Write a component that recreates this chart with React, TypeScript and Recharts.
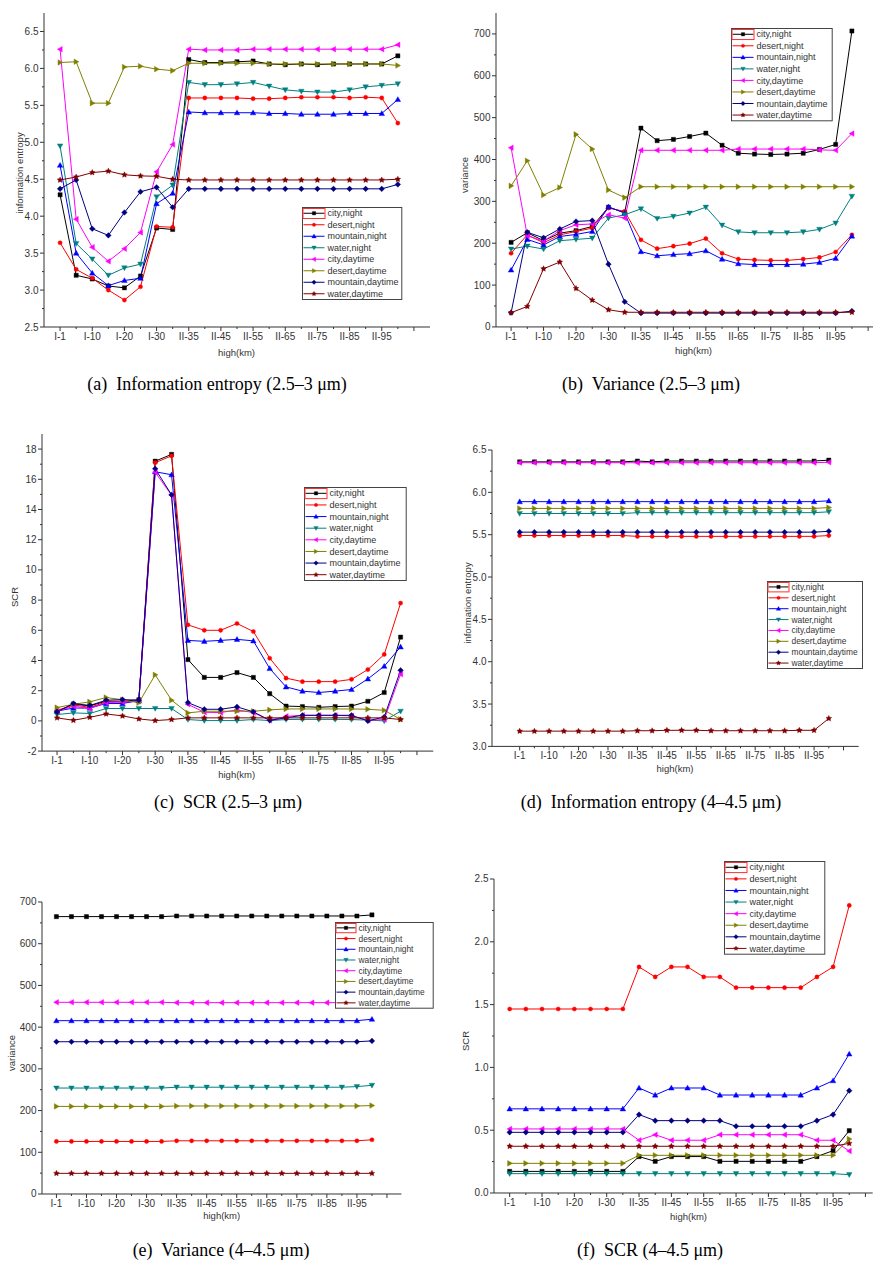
import React from 'react';
import { LineChart, Line, XAxis, YAxis } from 'recharts';

// ---------- categories / tick labels ----------
const categories = ["I-1","I-5","I-10","I-15","I-20","I-25","I-30","I-35","II-35","II-40","II-45","II-50","II-55","II-60","II-65","II-70","II-75","II-80","II-85","II-90","II-95","II-100"];
const xTickLabels = ["I-1","I-10","I-20","I-30","II-35","II-45","II-55","II-65","II-75","II-85","II-95"];
const xTickPositions = [0,1,2,3,4,5,6,7,8,9,10,11,12,13,14,15,16,17,18,19,20,21,22];

const seriesNames = ["city,night","desert,night","mountain,night","water,night","city,daytime","desert,daytime","mountain,daytime","water,daytime"];
const seriesColors = ["#000000","#ff0000","#0000ff","#008080","#ff00ff","#808000","#000080","#800000"];
const seriesShapes = ["square","circle","triUp","triDown","triLeft","triRight","diamond","star"];

// ---------- (a) Information entropy 2.5-3 um ----------
const aCityNight = [4.29,3.20,3.15,3.055,3.03,3.19,3.84,3.82,6.12,6.08,6.08,6.09,6.10,6.06,6.05,6.06,6.05,6.06,6.06,6.06,6.06,6.17];
const aDesertNight = [3.64,3.28,3.16,3.00,2.865,3.045,3.86,3.85,5.60,5.60,5.60,5.60,5.59,5.59,5.60,5.61,5.61,5.61,5.60,5.61,5.60,5.26];
const aMountainNight = [4.69,3.50,3.23,3.06,3.13,3.16,4.17,4.31,5.41,5.40,5.40,5.40,5.40,5.39,5.39,5.38,5.38,5.38,5.39,5.39,5.39,5.58];
const aWaterNight = [4.95,3.63,3.42,3.20,3.30,3.35,4.26,4.42,5.81,5.78,5.78,5.79,5.81,5.76,5.71,5.69,5.68,5.68,5.71,5.75,5.77,5.79];
const aCityDay = [6.26,3.96,3.58,3.39,3.56,3.78,4.60,4.97,6.26,6.25,6.25,6.25,6.26,6.26,6.26,6.26,6.26,6.26,6.26,6.26,6.26,6.32];
const aDesertDay = [6.08,6.09,5.53,5.53,6.02,6.03,5.99,5.97,6.07,6.07,6.07,6.07,6.07,6.06,6.06,6.06,6.06,6.06,6.06,6.06,6.06,6.04];
const aMountainDay = [4.37,4.49,3.83,3.74,4.05,4.33,4.39,4.12,4.37,4.37,4.37,4.37,4.37,4.37,4.37,4.37,4.37,4.37,4.37,4.37,4.37,4.43];
const aWaterDay = [4.49,4.53,4.59,4.61,4.56,4.545,4.54,4.50,4.49,4.49,4.49,4.49,4.49,4.49,4.49,4.49,4.49,4.49,4.49,4.49,4.49,4.50];

// ---------- (b) Variance 2.5-3 um ----------
const bCityNight = [202,225,206,224,230,240,286,273,475,445,448,455,463,434,415,413,412,413,415,424,436,707];
const bDesertNight = [176,220,201,220,228,236,284,276,208,187,193,199,211,176,162,160,159,159,162,166,179,220];
const bMountainNight = [136,209,196,216,221,228,287,272,180,170,173,175,182,162,151,149,149,149,150,154,164,217];
const bWaterNight = [186,193,186,206,209,212,260,268,282,259,264,272,286,243,227,225,225,225,227,233,248,312];
const bCityDay = [428,218,205,230,244,246,268,260,422,422,422,422,422,422,425,425,425,425,425,423,422,462];
const bDesertDay = [337,397,315,333,460,425,327,309,335,335,335,335,335,335,335,335,335,335,335,335,335,335];
const bMountainDay = [34,226,213,234,252,254,150,60,33,33,33,33,33,33,33,33,33,33,33,33,33,38];
const bWaterDay = [34,49,139,155,92,64,41,35,35,35,35,35,35,35,35,35,35,35,35,35,35,35];

// ---------- (c) SCR 2.5-3 um ----------
const cCityNight = [0.6,1.1,1.0,1.3,1.3,1.4,17.2,17.65,4.06,2.88,2.88,3.2,2.88,1.8,0.98,0.95,0.9,0.95,0.98,1.3,1.88,5.55];
const cDesertNight = [0.7,1.05,0.9,1.25,1.25,1.3,17.1,17.55,6.36,6.0,6.0,6.45,5.92,4.15,2.83,2.6,2.6,2.6,2.75,3.4,4.4,7.8];
const cMountainNight = [0.65,0.85,0.85,1.15,1.15,1.35,16.5,16.3,5.33,5.27,5.33,5.4,5.3,3.47,2.25,1.97,1.88,1.97,2.08,2.78,3.62,4.9];
const cWaterNight = [0.42,0.53,0.49,0.82,0.82,0.82,0.82,0.82,0.09,0.02,0.02,0.02,0.09,0.02,0.09,0.1,0.1,0.1,0.09,0.05,0.0,0.64];
const cCityDay = [0.64,0.97,0.82,1.21,1.26,1.3,16.47,14.95,1.1,0.57,0.55,0.73,0.55,0.04,0.3,0.37,0.37,0.37,0.33,0.04,0.09,3.1];
const cDesertDay = [0.88,1.1,1.26,1.55,1.4,1.2,3.05,1.37,0.53,0.64,0.64,0.64,0.64,0.73,0.79,0.79,0.79,0.79,0.79,0.77,0.7,0.1];
const cMountainDay = [0.6,1.15,1.02,1.37,1.41,1.37,16.7,14.97,1.21,0.77,0.77,0.93,0.6,0.04,0.2,0.37,0.37,0.37,0.37,0.0,0.26,3.35];
const cWaterDay = [0.2,0.04,0.24,0.46,0.33,0.13,0.02,0.09,0.2,0.2,0.2,0.2,0.2,0.2,0.2,0.2,0.2,0.2,0.2,0.2,0.2,0.09];

// ---------- (d) Information entropy 4-4.5 um ----------
const dCityNight = [6.36,6.36,6.36,6.36,6.36,6.36,6.36,6.36,6.37,6.36,6.37,6.37,6.37,6.37,6.37,6.37,6.37,6.37,6.37,6.37,6.37,6.38];
const dDesertNight = [5.49,5.49,5.49,5.49,5.49,5.49,5.49,5.49,5.48,5.48,5.48,5.48,5.48,5.48,5.48,5.48,5.48,5.48,5.48,5.48,5.48,5.49];
const dMountainNight = [5.89,5.89,5.89,5.89,5.89,5.89,5.89,5.89,5.89,5.89,5.89,5.89,5.89,5.89,5.89,5.89,5.89,5.89,5.89,5.89,5.89,5.90];
const dWaterNight = [5.75,5.75,5.75,5.75,5.75,5.75,5.75,5.75,5.76,5.76,5.76,5.76,5.76,5.76,5.76,5.76,5.76,5.76,5.76,5.76,5.76,5.77];
const dCityDay = [6.35,6.35,6.35,6.35,6.35,6.35,6.35,6.35,6.35,6.35,6.35,6.35,6.35,6.35,6.35,6.35,6.35,6.35,6.35,6.35,6.35,6.355];
const dDesertDay = [5.81,5.81,5.81,5.81,5.81,5.81,5.81,5.81,5.81,5.81,5.81,5.81,5.81,5.81,5.81,5.81,5.81,5.81,5.81,5.81,5.81,5.82];
const dMountainDay = [5.53,5.53,5.53,5.53,5.53,5.53,5.53,5.53,5.53,5.53,5.53,5.53,5.53,5.53,5.53,5.53,5.53,5.53,5.53,5.53,5.53,5.54];
const dWaterDay = [3.18,3.18,3.18,3.18,3.18,3.18,3.18,3.18,3.185,3.185,3.19,3.19,3.19,3.185,3.185,3.185,3.185,3.185,3.185,3.19,3.19,3.33];

// ---------- (e) Variance 4-4.5 um ----------
const eCityNight = [665,665,665,665,665,665,665,665,666.5,666.5,666.5,666.5,666.5,666.5,666.5,666.5,666.5,666.5,666.5,666.5,666.5,669];
const eDesertNight = [126,126,126,126,126,126,126,126,127.5,127.5,127.5,127.5,127.5,127.5,127.5,127.5,127.5,127.5,127.5,127.5,127.5,130];
const eMountainNight = [415.5,415.5,415.5,415.5,415.5,415.5,415.5,415.5,415.5,415.5,415.5,415.5,415.5,415.5,415.5,415.5,415.5,415.5,415.5,415.5,415.5,419];
const eWaterNight = [254,254,254,254,254,254,254,254,256,256,256,256,256,256,256,256,256,256,256,256,257.5,260.5];
const eCityDay = [459.5,459.5,459.5,459.5,459.5,459.5,459.5,459.5,458.7,458.7,458.7,458.7,458.7,458.7,458.7,458.7,458.7,458.7,458.7,458.7,458.7,458.7];
const eDesertDay = [210,210,210,210,210,210,210,210,211,211,211,211,211,211,211,211,211,211,211,211,211,212];
const eMountainDay = [365,365,365,365,365,365,365,365,365,365,365,365,365,365,365,365,365,365,365,365,365,367];
const eWaterDay = [49.5,49.5,49.5,49.5,49.5,49.5,49.5,49.5,49.5,49.5,49.5,49.5,49.5,49.5,49.5,49.5,49.5,49.5,49.5,49.5,49.5,49.5];

// ---------- (f) SCR 4-4.5 um ----------
const fCityNight = [0.172,0.172,0.172,0.172,0.172,0.172,0.172,0.172,0.29,0.252,0.29,0.29,0.29,0.252,0.252,0.252,0.252,0.252,0.252,0.29,0.337,0.496];
const fDesertNight = [1.465,1.465,1.465,1.465,1.465,1.465,1.465,1.465,1.80,1.72,1.80,1.80,1.72,1.72,1.635,1.635,1.635,1.635,1.635,1.72,1.80,2.29];
const fMountainNight = [0.67,0.67,0.67,0.67,0.67,0.67,0.67,0.67,0.836,0.78,0.836,0.836,0.836,0.78,0.78,0.78,0.78,0.78,0.78,0.836,0.894,1.107];
const fWaterNight = [0.154,0.154,0.154,0.154,0.154,0.154,0.154,0.154,0.154,0.154,0.154,0.154,0.154,0.154,0.154,0.154,0.154,0.154,0.154,0.154,0.154,0.146];
const fCityDay = [0.51,0.51,0.51,0.51,0.51,0.51,0.51,0.51,0.42,0.464,0.42,0.42,0.42,0.464,0.464,0.464,0.464,0.464,0.464,0.42,0.42,0.334];
const fDesertDay = [0.236,0.236,0.236,0.236,0.236,0.236,0.236,0.236,0.30,0.30,0.30,0.30,0.30,0.30,0.30,0.30,0.30,0.30,0.30,0.30,0.30,0.43];
const fMountainDay = [0.483,0.483,0.483,0.483,0.483,0.483,0.483,0.483,0.624,0.576,0.576,0.576,0.576,0.576,0.531,0.531,0.531,0.531,0.531,0.576,0.624,0.815];
const fWaterDay = [0.372,0.372,0.372,0.372,0.372,0.372,0.372,0.372,0.372,0.372,0.372,0.372,0.372,0.372,0.372,0.372,0.372,0.372,0.372,0.372,0.372,0.395];

// ---------- y ticks ----------
const aYTicks = [2.5,2.75,3.0,3.25,3.5,3.75,4.0,4.25,4.5,4.75,5.0,5.25,5.5,5.75,6.0,6.25,6.5];
const bYTicks = [0,50,100,150,200,250,300,350,400,450,500,550,600,650,700];
const cYTicks = [-2,-1,0,1,2,3,4,5,6,7,8,9,10,11,12,13,14,15,16,17,18];
const dYTicks = [3.0,3.25,3.5,3.75,4.0,4.25,4.5,4.75,5.0,5.25,5.5,5.75,6.0,6.25,6.5];
const eYTicks = [0,50,100,150,200,250,300,350,400,450,500,550,600,650,700];
const fYTicks = [0,0.25,0.5,0.75,1.0,1.25,1.5,1.75,2.0,2.25,2.5];

const AXIS = '#333';
const SANS = '"Liberation Sans", Arial, sans-serif';

function markerPath(shape: string, cx: number, cy: number): string {
  const s = 2.1, t = 2.8;
  switch (shape) {
    case 'square': return `M${cx - s},${cy - s}h${2 * s}v${2 * s}h${-2 * s}Z`;
    case 'circle': { const r = 2.1; return `M${cx - r},${cy}a${r},${r} 0 1,0 ${2 * r},0a${r},${r} 0 1,0 ${-2 * r},0Z`; }
    case 'triUp': return `M${cx},${cy - t}L${cx + t},${cy + t * 0.75}L${cx - t},${cy + t * 0.75}Z`;
    case 'triDown': return `M${cx},${cy + t}L${cx + t},${cy - t * 0.75}L${cx - t},${cy - t * 0.75}Z`;
    case 'triLeft': return `M${cx - t},${cy}L${cx + t * 0.75},${cy - t}L${cx + t * 0.75},${cy + t}Z`;
    case 'triRight': return `M${cx + t},${cy}L${cx - t * 0.75},${cy - t}L${cx - t * 0.75},${cy + t}Z`;
    case 'diamond': return `M${cx},${cy - t}L${cx + t},${cy}L${cx},${cy + t}L${cx - t},${cy}Z`;
    case 'star': {
      let d = '';
      for (let k = 0; k < 10; k++) {
        const r = k % 2 === 0 ? 3.0 : 1.5;
        const a = -Math.PI / 2 + (k * Math.PI) / 5;
        d += (k === 0 ? 'M' : 'L') + (cx + r * Math.cos(a)).toFixed(2) + ',' + (cy + r * Math.sin(a)).toFixed(2);
      }
      return d + 'Z';
    }
    default: return '';
  }
}

const makeDot = (shape: string, color: string) => (p: any) => {
  if (p.cx == null || p.cy == null) return <g key={`e${p.index}`} />;
  return <path key={`d${p.index}`} d={markerPath(shape, p.cx, p.cy)} fill={color} stroke={color} strokeWidth={0.4} />;
};

const XTick = (p: any) => {
  const v = Math.round(p.payload.value);
  const major = v % 2 === 0;
  const label = major && v / 2 < xTickLabels.length ? xTickLabels[v / 2] : '';
  return (
    <g>
      <line x1={p.x} y1={p.y} x2={p.x} y2={p.y + (major ? 4 : 2)} stroke={AXIS} strokeWidth={1} />
      {label ? <text x={p.x} y={p.y + 13} textAnchor="middle" fontSize={10} fill="#333" fontFamily={SANS}>{label}</text> : null}
    </g>
  );
};

const makeYTick = (majorStep: number, decimals: number) => (p: any) => {
  const v = p.payload.value;
  const q = v / majorStep;
  const major = Math.abs(q - Math.round(q)) < 1e-6;
  return (
    <g>
      <line x1={p.x} y1={p.y} x2={p.x - (major ? 4 : 2)} y2={p.y} stroke={AXIS} strokeWidth={1} />
      {major ? <text x={p.x - 5.5} y={p.y} dy="0.35em" textAnchor="end" fontSize={10} fill="#333" fontFamily={SANS}>{v.toFixed(decimals)}</text> : null}
    </g>
  );
};

type Box = { l: number; t: number; r: number; b: number };
type LegendBox = { x: number; y: number; w: number; h: number; font: number; sample: number };
type PanelProps = {
  plot: Box;
  xDomain: [number, number];
  yDomain: [number, number];
  yTicks: number[];
  majorStep: number;
  decimals: number;
  series: number[][];
  legend: LegendBox;
  yTitle: string;
  yTitlePos: [number, number];
  xTitlePos: [number, number];
  caption: string;
  captionPos: [number, number];
};

const Legend8 = ({ lg }: { lg: LegendBox }) => {
  const rowH = lg.h / 8;
  return (
    <svg style={{ position: 'absolute', left: lg.x, top: lg.y, overflow: 'visible' }} width={lg.w + 2} height={lg.h + 2}>
      <rect x={0.5} y={0.5} width={lg.w} height={lg.h} fill="#ffffff" stroke="#444" strokeWidth={1} />
      {seriesNames.map((n, i) => {
        const cy = 0.5 + (i + 0.5) * rowH;
        const x0 = 1.5, x1 = 1.5 + lg.sample;
        return (
          <g key={n}>
            <line x1={x0} x2={x1} y1={cy} y2={cy} stroke={seriesColors[i]} strokeWidth={1} />
            <path d={markerPath(seriesShapes[i], (x0 + x1) / 2, cy)} fill={seriesColors[i]} stroke={seriesColors[i]} strokeWidth={0.4} transform={`translate(${(x0 + x1) / 2},${cy}) scale(0.8) translate(${-(x0 + x1) / 2},${-cy})`} />
            <text x={x1 + 3} y={cy} dy="0.35em" fontSize={lg.font} fill="#333" fontFamily={SANS}>{n}</text>
          </g>
        );
      })}
      <rect x={1} y={1.5} width={lg.sample + 1} height={rowH - 1.5} fill="none" stroke="#ff3030" strokeWidth={1} />
    </svg>
  );
};

const Panel = (props: PanelProps) => {
  const { plot, xDomain, yDomain, yTicks, majorStep, decimals, series, legend } = props;
  const yW = 40, top = 6, xH = 28;
  const rm = Math.max(0, Math.min(4, 873 - plot.r));
  const left = plot.l - yW;
  const width = plot.r - plot.l + yW + rm;
  const height = plot.b - plot.t + top + xH;
  const rows = categories.map((c, i) => {
    const row: any = { x: i, cat: c };
    series.forEach((s, k) => { row[`s${k}`] = s[i]; });
    return row;
  });
  return (
    <>
      <div style={{ position: 'absolute', left, top: plot.t - top, width, height }}>
        <LineChart width={width} height={height} data={rows} margin={{ top, right: rm, bottom: 0, left: 0 }}>
          <XAxis type="number" dataKey="x" domain={xDomain} ticks={xTickPositions} interval={0} allowDataOverflow
            tickSize={0} tickMargin={0} tickLine={false} axisLine={{ stroke: AXIS, strokeWidth: 1 }} height={xH}
            tick={(p: any) => <XTick {...p} />} />
          <YAxis type="number" domain={yDomain} ticks={yTicks} interval={0} allowDataOverflow width={yW}
            tickSize={0} tickMargin={0} tickLine={false} axisLine={{ stroke: AXIS, strokeWidth: 1 }}
            tick={makeYTick(majorStep, decimals)} />
          {series.map((_, k) => (
            <Line key={k} type="linear" dataKey={`s${k}`} stroke={seriesColors[k]} strokeWidth={1}
              dot={makeDot(seriesShapes[k], seriesColors[k])} activeDot={false} isAnimationActive={false} />
          ))}
        </LineChart>
      </div>
      <Legend8 lg={legend} />
      <div style={{ position: 'absolute', left: props.yTitlePos[0], top: props.yTitlePos[1], transform: 'translate(-50%,-50%) rotate(-90deg)', fontFamily: SANS, fontSize: 9.5, color: '#333', whiteSpace: 'nowrap', lineHeight: 1 }}>{props.yTitle}</div>
      <div style={{ position: 'absolute', left: props.xTitlePos[0], top: props.xTitlePos[1], transform: 'translate(-50%,-50%)', fontFamily: SANS, fontSize: 9.5, color: '#333', whiteSpace: 'nowrap', lineHeight: 1 }}>high(km)</div>
      <div style={{ position: 'absolute', left: props.captionPos[0], top: props.captionPos[1], transform: 'translate(-50%,-50%)', fontFamily: '"Liberation Serif", "DejaVu Serif", serif', fontSize: 18, color: '#000', whiteSpace: 'pre', lineHeight: 1 }}>{props.caption}</div>
    </>
  );
};

export default function App() {
  return (
    <div style={{ position: 'absolute', left: 0, top: 0, width: 873, height: 1266, overflow: 'hidden', background: '#fff' }}>
      <Panel plot={{ l: 44, t: 13, r: 430, b: 327 }} xDomain={[-1, 23]} yDomain={[2.5, 6.75]} yTicks={aYTicks} majorStep={0.5} decimals={1}
        series={[aCityNight, aDesertNight, aMountainNight, aWaterNight, aCityDay, aDesertDay, aMountainDay, aWaterDay]}
        legend={{ x: 301.7, y: 207, w: 99.3, h: 92, font: 9, sample: 21 }}
        yTitle="information entropy" yTitlePos={[19.5, 173]} xTitlePos={[236.5, 353]}
        caption={"(a)  Information entropy (2.5\u20133 \u03bcm)"} captionPos={[217, 384]} />
      <Panel plot={{ l: 496, t: 13.07, r: 873, b: 327 }} xDomain={[-0.93, 22.3]} yDomain={[0, 750]} yTicks={bYTicks} majorStep={100} decimals={0}
        series={[bCityNight, bDesertNight, bMountainNight, bWaterNight, bCityDay, bDesertDay, bMountainDay, bWaterDay]}
        legend={{ x: 731, y: 27.7, w: 100.7, h: 92.3, font: 9, sample: 21 }}
        yTitle="variance" yTitlePos={[465, 175]} xTitlePos={[693.5, 351]}
        caption={"(b)  Variance (2.5\u20133 \u03bcm)"} captionPos={[651, 384]} />
      <Panel plot={{ l: 41.7, t: 433.9, r: 433, b: 751 }} xDomain={[-0.92, 23]} yDomain={[-2, 19]} yTicks={cYTicks} majorStep={2} decimals={0}
        series={[cCityNight, cDesertNight, cMountainNight, cWaterNight, cCityDay, cDesertDay, cMountainDay, cWaterDay]}
        legend={{ x: 304.3, y: 487.3, w: 101.7, h: 93, font: 9, sample: 21 }}
        yTitle="SCR" yTitlePos={[15, 597]} xTitlePos={[236.7, 775]}
        caption={"(c)  SCR (2.5\u20133 \u03bcm)"} captionPos={[228, 802]} />
      <Panel plot={{ l: 492.3, t: 450.3, r: 859, b: 746.7 }} xDomain={[-1.88, 23.03]} yDomain={[3.0, 6.5]} yTicks={dYTicks} majorStep={0.5} decimals={1}
        series={[dCityNight, dDesertNight, dMountainNight, dWaterNight, dCityDay, dDesertDay, dMountainDay, dWaterDay]}
        legend={{ x: 766.7, y: 581, w: 95, h: 87, font: 8.4, sample: 20 }}
        yTitle="information entropy" yTitlePos={[467.7, 603]} xTitlePos={[675, 769]}
        caption={"(d)  Information entropy (4\u20134.5 \u03bcm)"} captionPos={[651, 802]} />
      <Panel plot={{ l: 42.3, t: 902, r: 401.7, b: 1194 }} xDomain={[-0.96, 22.96]} yDomain={[0, 700]} yTicks={eYTicks} majorStep={100} decimals={0}
        series={[eCityNight, eDesertNight, eMountainNight, eWaterNight, eCityDay, eDesertDay, eMountainDay, eWaterDay]}
        legend={{ x: 334.7, y: 921.7, w: 97.7, h: 85.7, font: 8.4, sample: 19 }}
        yTitle="variance" yTitlePos={[12, 1053]} xTitlePos={[221.7, 1216]}
        caption={"(e)  Variance (4\u20134.5 \u03bcm)"} captionPos={[221, 1250]} />
      <Panel plot={{ l: 494.3, t: 879.3, r: 873, b: 1193.3 }} xDomain={[-0.97, 22.45]} yDomain={[0, 2.5]} yTicks={fYTicks} majorStep={0.5} decimals={1}
        series={[fCityNight, fDesertNight, fMountainNight, fWaterNight, fCityDay, fDesertDay, fMountainDay, fWaterDay]}
        legend={{ x: 724, y: 860.7, w: 100.3, h: 92.7, font: 9, sample: 21 }}
        yTitle="SCR" yTitlePos={[465.7, 1041]} xTitlePos={[688.5, 1217]}
        caption={"(f)  SCR (4\u20134.5 \u03bcm)"} captionPos={[650, 1250]} />
    </div>
  );
}
